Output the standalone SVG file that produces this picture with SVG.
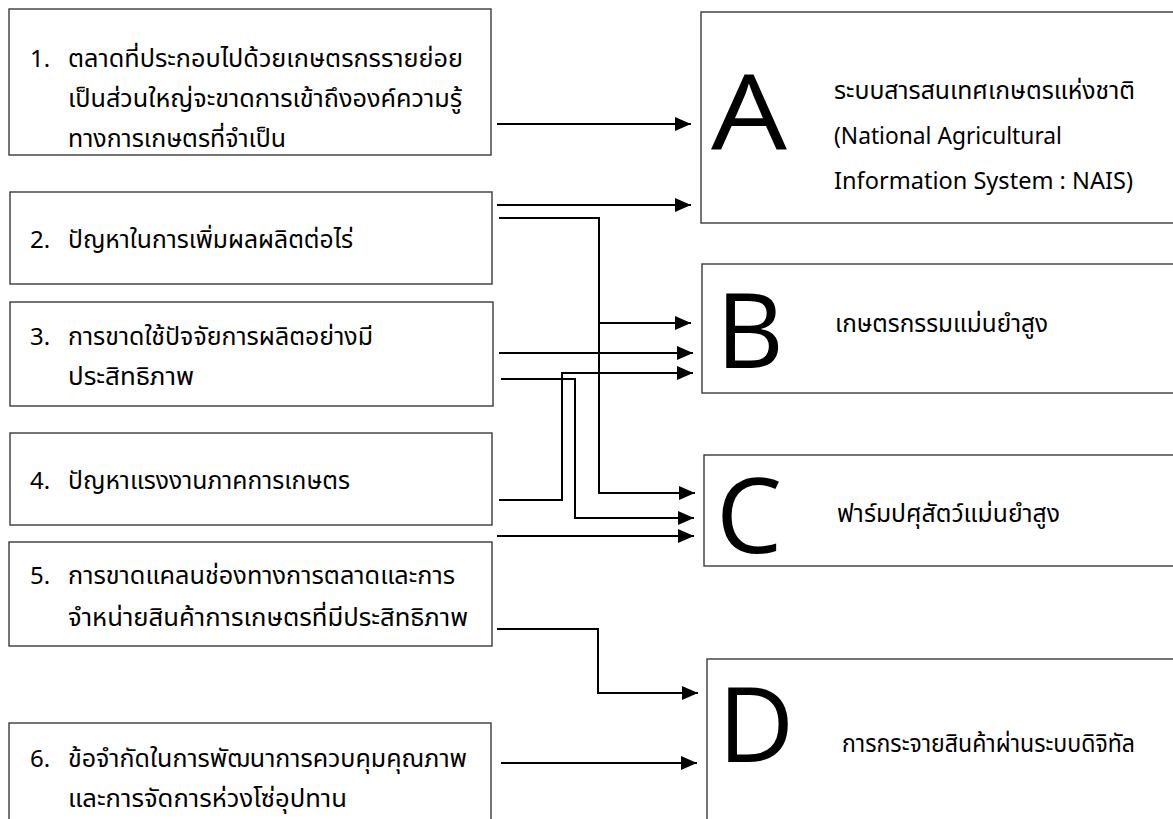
<svg xmlns="http://www.w3.org/2000/svg" width="1173" height="819" viewBox="0 0 1173 819">
<style>
.box{fill:#fff;stroke:#3a3a3a;stroke-width:1.4}
.t{font-family:"Noto Sans Thai","Leelawadee UI","Noto Sans",sans-serif;font-size:24px;fill:#000}
.big{font-family:"Open Sans","Noto Sans",sans-serif;font-size:105px;fill:#000}
.c{fill:none;stroke:#000;stroke-width:2}
</style>
<defs>
<marker id="ah" markerUnits="userSpaceOnUse" markerWidth="16" markerHeight="14" refX="16" refY="7" orient="auto">
<path d="M0,0 L16,7 L0,14 z" fill="#000"/>
</marker>
</defs>
<rect width="1173" height="819" fill="#fff"/>
<g id="p1"><rect class="box" x="9" y="9" width="482" height="146"/>
<text class="t" x="30" y="67">1.</text>
<text class="t" x="68" y="67" textLength="395" lengthAdjust="spacingAndGlyphs">ตลาดที่ประกอบไปด้วยเกษตรกรรายย่อย</text>
<text class="t" x="68" y="107" textLength="394" lengthAdjust="spacingAndGlyphs">เป็นส่วนใหญ่จะขาดการเข้าถึงองค์ความรู้</text>
<text class="t" x="68" y="147" textLength="218" lengthAdjust="spacingAndGlyphs">ทางการเกษตรที่จำเป็น</text></g>
<g id="p2"><rect class="box" x="10" y="192" width="482" height="92"/>
<text class="t" x="30" y="248">2.</text>
<text class="t" x="68" y="248" textLength="285" lengthAdjust="spacingAndGlyphs">ปัญหาในการเพิ่มผลผลิตต่อไร่</text></g>
<g id="p3"><rect class="box" x="10" y="302" width="483" height="104"/>
<text class="t" x="30" y="345">3.</text>
<text class="t" x="68" y="345" textLength="305" lengthAdjust="spacingAndGlyphs">การขาดใช้ปัจจัยการผลิตอย่างมี</text>
<text class="t" x="68" y="385" textLength="126" lengthAdjust="spacingAndGlyphs">ประสิทธิภาพ</text></g>
<g id="p4"><rect class="box" x="10" y="433" width="482" height="92"/>
<text class="t" x="30" y="489">4.</text>
<text class="t" x="68" y="489" textLength="282" lengthAdjust="spacingAndGlyphs">ปัญหาแรงงานภาคการเกษตร</text></g>
<g id="p5"><rect class="box" x="9" y="542" width="483" height="104"/>
<text class="t" x="30" y="584">5.</text>
<text class="t" x="68" y="584" textLength="387" lengthAdjust="spacingAndGlyphs">การขาดแคลนช่องทางการตลาดและการ</text>
<text class="t" x="68" y="626" textLength="400" lengthAdjust="spacingAndGlyphs">จำหน่ายสินค้าการเกษตรที่มีประสิทธิภาพ</text></g>
<g id="p6"><rect class="box" x="9" y="723" width="482" height="120"/>
<text class="t" x="30" y="767">6.</text>
<text class="t" x="68" y="767" textLength="399" lengthAdjust="spacingAndGlyphs">ข้อจำกัดในการพัฒนาการควบคุมคุณภาพ</text>
<text class="t" x="68" y="807" textLength="279" lengthAdjust="spacingAndGlyphs">และการจัดการห่วงโซ่อุปทาน</text></g>
<g id="nA"><rect class="box" x="701" y="12" width="500" height="211"/>
<text class="big" x="711" y="150" textLength="76" lengthAdjust="spacingAndGlyphs">A</text>
<text class="t" x="834" y="99" textLength="301" lengthAdjust="spacingAndGlyphs">ระบบสารสนเทศเกษตรแห่งชาติ</text>
<text class="t" x="834" y="144" textLength="228" lengthAdjust="spacingAndGlyphs">(National Agricultural</text>
<text class="t" x="834" y="189" textLength="299" lengthAdjust="spacingAndGlyphs">Information System : NAIS)</text></g>
<g id="nB"><rect class="box" x="702" y="264" width="500" height="129"/>
<text class="big" x="716" y="368">B</text>
<text class="t" x="835" y="332" textLength="213" lengthAdjust="spacingAndGlyphs">เกษตรกรรมแม่นยำสูง</text></g>
<g id="nC"><rect class="box" x="704" y="455" width="500" height="111"/>
<text class="big" x="716" y="553">C</text>
<text class="t" x="837" y="522" textLength="223" lengthAdjust="spacingAndGlyphs">ฟาร์มปศุสัตว์แม่นยำสูง</text></g>
<g id="nD"><rect class="box" x="707" y="659" width="500" height="200"/>
<text class="big" x="718" y="762">D</text>
<text class="t" x="842" y="752" textLength="293" lengthAdjust="spacingAndGlyphs">การกระจายสินค้าผ่านระบบดิจิทัล</text></g>
<g id="connectors">
<path class="c" d="M497,124 H691" marker-end="url(#ah)"/>
<path class="c" d="M497,205 H691" marker-end="url(#ah)"/>
<path class="c" d="M499,218 H599 V493 H695" marker-end="url(#ah)"/>
<path class="c" d="M599,323 H691" marker-end="url(#ah)"/>
<path class="c" d="M499,353 H693" marker-end="url(#ah)"/>
<path class="c" d="M501,379 H575 V518 H694" marker-end="url(#ah)"/>
<path class="c" d="M499,500 H562 V373 H693" marker-end="url(#ah)"/>
<path class="c" d="M497,536 H694" marker-end="url(#ah)"/>
<path class="c" d="M497,629 H598 V693 H698" marker-end="url(#ah)"/>
<path class="c" d="M501,763 H697" marker-end="url(#ah)"/>
</g>
</svg>
